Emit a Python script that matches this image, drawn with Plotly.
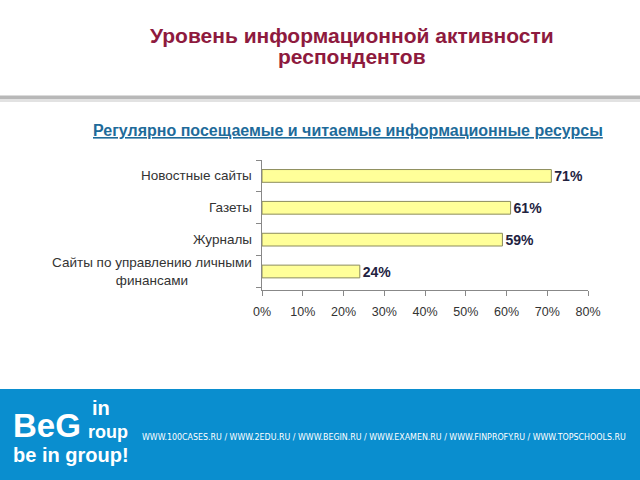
import plotly.graph_objects as go

categories = ["Новостные сайты", "Газеты", "Журналы", "Сайты по управлению личными<br>финансами"]
values = [71, 61, 59, 24]
value_labels = ["71%", "61%", "59%", "24%"]
x_ticks = [0, 10, 20, 30, 40, 50, 60, 70, 80]
x_tick_labels = ["0%", "10%", "20%", "30%", "40%", "50%", "60%", "70%", "80%"]

title_line1 = "Уровень информационной активности"
title_line2 = "респондентов"
subtitle_text = "<u>Регулярно посещаемые и читаемые информационные ресурсы</u>"
urls_text = "WWW.100CASES.RU / WWW.2EDU.RU / WWW.BEGIN.RU / WWW.EXAMEN.RU / WWW.FINPROFY.RU / WWW.TOPSCHOOLS.RU"

W, H = 640, 480
PL, PR, PT, PB = 262, 588, 160, 290   # plot area in pixels
FONT = "Liberation Sans, Arial, sans-serif"

def px(x):
    return (x - PL) / (PR - PL)

def py(y):
    return (PB - y) / (PB - PT)

fig = go.Figure()
fig.add_trace(go.Bar(
    y=categories, x=values, orientation="h",
    width=0.4,
    marker=dict(color="#FFFF99", line=dict(color="#8C8C5C", width=1)),
    text=value_labels, textposition="outside", cliponaxis=False,
    constraintext="none",
    textfont=dict(family=FONT, size=14, color="#22223F"),
    texttemplate="<b>%{text}</b>",
    hoverinfo="skip",
))

fig.update_layout(
    width=W, height=H,
    margin=dict(l=PL, r=W - PR, t=PT, b=H - PB, autoexpand=False),
    paper_bgcolor="white", plot_bgcolor="white",
    showlegend=False,
    xaxis=dict(
        range=[0, 80],
        tickvals=x_ticks, ticktext=x_tick_labels,
        showgrid=False, zeroline=False,
        showline=True, linecolor="#888888", linewidth=1,
        ticks="outside", ticklen=5, tickcolor="#888888",
        ticklabelstandoff=5,
        tickfont=dict(family=FONT, size=12.5, color="#333333"),
        fixedrange=True,
    ),
    yaxis=dict(
        categoryorder="array", categoryarray=categories[::-1],
        showticklabels=False,
        showgrid=False, zeroline=False,
        showline=True, linecolor="#888888", linewidth=1,
        ticks="outside", ticklen=5, tickcolor="#888888",
        tickson="boundaries",
        fixedrange=True,
    ),
)

# Category labels (centered multi-line like the original)
for cat in categories:
    fig.add_annotation(
        x=px(254), y=cat, xref="paper", yref="y",
        text=cat, showarrow=False, xanchor="right", yanchor="middle",
        align="center",
        font=dict(family=FONT, size=13.5, color="#333333"),
    )

# Header
fig.add_annotation(
    x=px(352), y=py(35), xref="paper", yref="paper",
    text="<b>" + title_line1 + "</b>", showarrow=False,
    xanchor="center", yanchor="middle",
    font=dict(family=FONT, size=21, color="#8E1A3E"),
)
fig.add_annotation(
    x=px(352), y=py(57), xref="paper", yref="paper",
    text="<b>" + title_line2 + "</b>", showarrow=False,
    xanchor="center", yanchor="middle",
    font=dict(family=FONT, size=21, color="#8E1A3E"),
)

fig.add_shape(type="rect", xref="paper", yref="paper",
              x0=px(0), x1=px(W), y0=py(99), y1=py(95.5),
              fillcolor="#B8B8B8", line=dict(width=0), layer="below")
fig.add_shape(type="rect", xref="paper", yref="paper",
              x0=px(0), x1=px(W), y0=py(102), y1=py(99),
              fillcolor="#E2E2E2", line=dict(width=0), layer="below")

fig.add_annotation(
    x=px(348), y=py(130), xref="paper", yref="paper",
    text="<b>" + subtitle_text + "</b>", showarrow=False,
    xanchor="center", yanchor="middle",
    font=dict(family=FONT, size=16, color="#1E6B9A"),
)

# Footer band
fig.add_shape(type="rect", xref="paper", yref="paper",
              x0=px(0), x1=px(W), y0=py(H), y1=py(389),
              fillcolor="#0A8ECF", line=dict(width=0), layer="below")

fig.add_annotation(
    x=px(11), y=py(425), xref="paper", yref="paper",
    text="<b>BeG</b>", showarrow=False, xanchor="left", yanchor="middle",
    font=dict(family=FONT, size=33, color="white"),
)
fig.add_annotation(
    x=px(90), y=py(408), xref="paper", yref="paper",
    text="<b>in</b>", showarrow=False, xanchor="left", yanchor="middle",
    font=dict(family=FONT, size=20, color="white"),
)
fig.add_annotation(
    x=px(86), y=py(432), xref="paper", yref="paper",
    text="<b>roup</b>", showarrow=False, xanchor="left", yanchor="middle",
    font=dict(family=FONT, size=18, color="white"),
)
fig.add_annotation(
    x=px(11), y=py(455), xref="paper", yref="paper",
    text="<b>be in group!</b>", showarrow=False, xanchor="left", yanchor="middle",
    font=dict(family=FONT, size=20, color="white"),
)
fig.add_annotation(
    x=px(140), y=py(437), xref="paper", yref="paper",
    text=urls_text, showarrow=False, xanchor="left", yanchor="middle",
    font=dict(family="DejaVu Sans Condensed, sans-serif", size=8.8, color="white"),
)

fig.write_html(
    "out.html",
    config={"displayModeBar": False, "staticPlot": True},
    post_script="document.body.style.margin='0';document.body.style.overflow='hidden';",
)
